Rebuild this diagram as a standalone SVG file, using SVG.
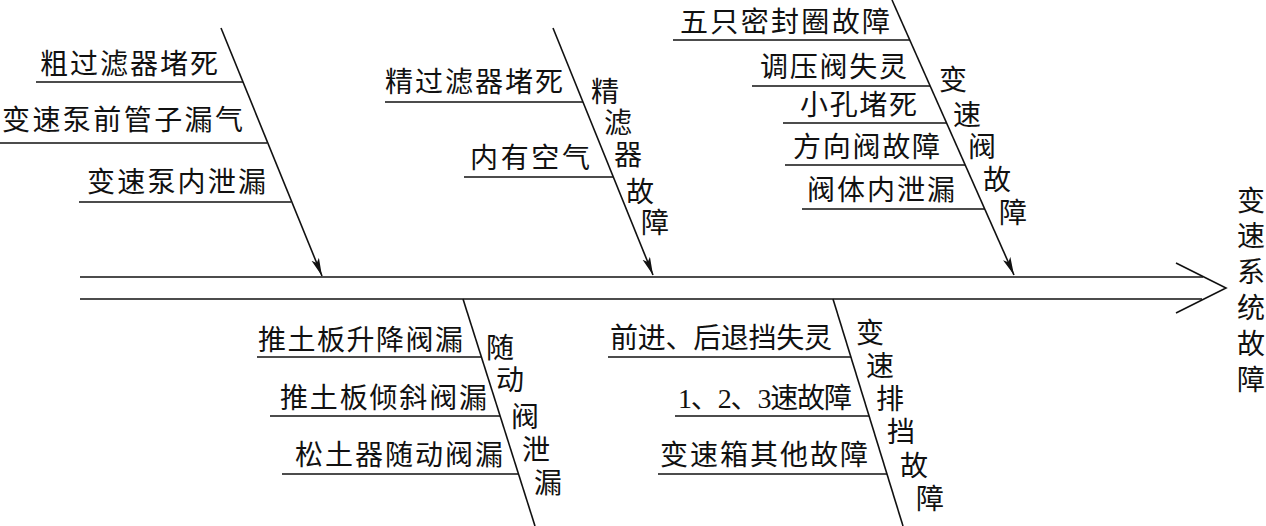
<svg xmlns="http://www.w3.org/2000/svg" width="1266" height="526" viewBox="0 0 1266 526">
<defs>
<style>
.t{font-family:"Liberation Serif","Noto Sans CJK SC",serif;font-size:28px;fill:#111}
.v{font-family:"Liberation Serif","Noto Sans CJK SC",serif;font-size:28px;fill:#111;text-anchor:middle}
.ln{stroke:#111;stroke-width:1.6;fill:none}
</style>
<marker id="ah" markerUnits="userSpaceOnUse" markerWidth="20" markerHeight="10" refX="18" refY="4" orient="auto">
<path d="M0,0 L18,4 L0,8 L4,4 Z" fill="#111"/>
</marker>
</defs>
<rect width="1266" height="526" fill="#fff"/>
<g id="connectors">
<line class="ln" x1="80" y1="277" x2="1203" y2="277"/>
<line class="ln" x1="80" y1="299" x2="1202" y2="299"/>
<polyline class="ln" points="1176,263 1226,288 1176,313"/>
<line class="ln" x1="221" y1="28" x2="322" y2="276" marker-end="url(#ah)"/>
<line class="ln" x1="553" y1="28" x2="653" y2="275" marker-end="url(#ah)"/>
<line class="ln" x1="892" y1="0" x2="1014" y2="275" marker-end="url(#ah)"/>
<line class="ln" x1="463" y1="299" x2="535" y2="526"/>
<line class="ln" x1="833" y1="299" x2="903" y2="526"/>
</g>
<g id="root">
<text class="v" x="1251" y="211">变</text>
<text class="v" x="1251" y="246">速</text>
<text class="v" x="1251" y="282">系</text>
<text class="v" x="1251" y="318">统</text>
<text class="v" x="1251" y="354">故</text>
<text class="v" x="1251" y="390">障</text>
</g>
<g id="branch-pump">
<text class="t" x="40" y="74" textLength="178" lengthAdjust="spacing">粗过滤器堵死</text>
<line class="ln" x1="36" y1="82" x2="243" y2="82"/>
<text class="t" x="2" y="130" textLength="241" lengthAdjust="spacing">变速泵前管子漏气</text>
<line class="ln" x1="0" y1="143" x2="267" y2="143"/>
<text class="t" x="87" y="192" textLength="179" lengthAdjust="spacing">变速泵内泄漏</text>
<line class="ln" x1="79" y1="202" x2="291" y2="202"/>
</g>
<g id="branch-fine-filter">
<text class="t" x="385" y="92" textLength="178" lengthAdjust="spacing">精过滤器堵死</text>
<line class="ln" x1="385" y1="102" x2="583" y2="102"/>
<text class="t" x="470" y="168" textLength="120" lengthAdjust="spacing">内有空气</text>
<line class="ln" x1="464" y1="177" x2="613" y2="177"/>
<text class="v" x="605" y="102">精</text>
<text class="v" x="618" y="133">滤</text>
<text class="v" x="628" y="165">器</text>
<text class="v" x="640" y="202">故</text>
<text class="v" x="655" y="233">障</text>
</g>
<g id="branch-valve">
<text class="t" x="680" y="32" textLength="210" lengthAdjust="spacing">五只密封圈故障</text>
<line class="ln" x1="673" y1="40" x2="910" y2="40"/>
<text class="t" x="760" y="77" textLength="147" lengthAdjust="spacing">调压阀失灵</text>
<line class="ln" x1="752" y1="86" x2="930" y2="86"/>
<text class="t" x="800" y="115" textLength="117" lengthAdjust="spacing">小孔堵死</text>
<line class="ln" x1="783" y1="123" x2="947" y2="123"/>
<text class="t" x="793" y="157" textLength="147" lengthAdjust="spacing">方向阀故障</text>
<line class="ln" x1="785" y1="165" x2="965" y2="165"/>
<text class="t" x="807" y="200" textLength="148" lengthAdjust="spacing">阀体内泄漏</text>
<line class="ln" x1="802" y1="209" x2="985" y2="209"/>
<text class="v" x="953" y="90">变</text>
<text class="v" x="967" y="125">速</text>
<text class="v" x="982" y="157">阀</text>
<text class="v" x="997" y="190">故</text>
<text class="v" x="1013" y="223">障</text>
</g>
<g id="branch-follow-valve">
<text class="t" x="258" y="350" textLength="205" lengthAdjust="spacing">推土板升降阀漏</text>
<line class="ln" x1="257" y1="357" x2="481" y2="357"/>
<text class="t" x="280" y="408" textLength="207" lengthAdjust="spacing">推土板倾斜阀漏</text>
<line class="ln" x1="270" y1="416" x2="500" y2="416"/>
<text class="t" x="295" y="465" textLength="208" lengthAdjust="spacing">松土器随动阀漏</text>
<line class="ln" x1="282" y1="474" x2="518" y2="474"/>
<text class="v" x="500" y="358">随</text>
<text class="v" x="510" y="390">动</text>
<text class="v" x="525" y="427">阀</text>
<text class="v" x="536" y="460">泄</text>
<text class="v" x="548" y="493">漏</text>
</g>
<g id="branch-gear">
<text class="t" x="610" y="348" textLength="222" lengthAdjust="spacing">前进、后退挡失灵</text>
<line class="ln" x1="608" y1="357" x2="851" y2="357"/>
<text class="t" x="678" y="408" textLength="174" lengthAdjust="spacing">1、2、3速故障</text>
<line class="ln" x1="675" y1="416" x2="869" y2="416"/>
<text class="t" x="660" y="465" textLength="208" lengthAdjust="spacing">变速箱其他故障</text>
<line class="ln" x1="658" y1="474" x2="887" y2="474"/>
<text class="v" x="870" y="343">变</text>
<text class="v" x="880" y="376">速</text>
<text class="v" x="890" y="409">排</text>
<text class="v" x="901" y="442">挡</text>
<text class="v" x="914" y="476">故</text>
<text class="v" x="930" y="509">障</text>
</g>
</svg>
